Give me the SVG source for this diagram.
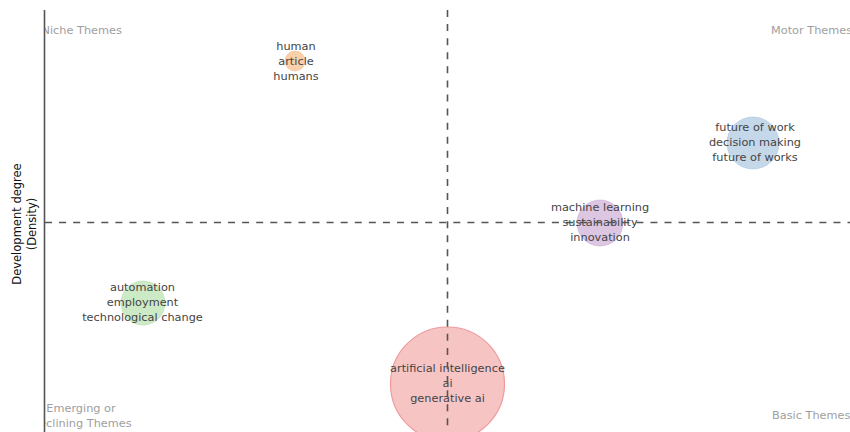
<svg xmlns="http://www.w3.org/2000/svg" width="850" height="432" viewBox="0 0 850 432">
<defs>
<style>
.lbl{font-family:"DejaVu Sans","Liberation Sans",sans-serif;font-size:11.3px;fill:#444;text-anchor:middle}
.quad{font-family:"DejaVu Sans","Liberation Sans",sans-serif;font-size:11.3px;fill:#9e9e9e}
.axt{font-family:"DejaVu Sans","Liberation Sans",sans-serif;font-size:11.5px;fill:#111;text-anchor:middle}
.dash{stroke:#555;stroke-width:1.6;stroke-dasharray:7 7.08;fill:none}
</style>
<clipPath id="plot"><rect x="44.5" y="0" width="806" height="432"/></clipPath>
</defs>
<rect width="850" height="432" fill="#fff"/>
<g id="axis-label">
<text class="axt" transform="translate(21,224) rotate(-90)">Development degree</text>
<text class="axt" transform="translate(36,224) rotate(-90)">(Density)</text>
</g>
<g id="quadrant-labels" clip-path="url(#plot)">
<text class="quad" x="41.5" y="33.5">Niche Themes</text>
<text class="quad" x="771" y="33.5">Motor Themes</text>
<text class="quad" x="81" y="412" text-anchor="middle">Emerging or</text>
<text class="quad" x="81" y="427" text-anchor="middle">Declining Themes</text>
<text class="quad" x="772" y="418.5">Basic Themes</text>
</g>
<g id="cluster-human">
<circle cx="295" cy="61" r="10" fill="#f9c89b" fill-opacity="0.85" stroke="#f5b37a" stroke-opacity="0.5"/>
<text class="lbl" x="296" y="50">human</text>
<text class="lbl" x="296" y="65">article</text>
<text class="lbl" x="296" y="80">humans</text>
</g>
<g id="cluster-future-of-work">
<circle cx="753" cy="143" r="26" fill="#c5d8ea" stroke="#a9c4df" stroke-opacity="0.6"/>
<text class="lbl" x="755" y="131">future of work</text>
<text class="lbl" x="755" y="146">decision making</text>
<text class="lbl" x="755" y="161">future of works</text>
</g>
<g id="cluster-machine-learning">
<circle cx="600" cy="223" r="23" fill="#dcc6e2" stroke="#c9a9d4" stroke-opacity="0.6"/>
<text class="lbl" x="600" y="211">machine learning</text>
<text class="lbl" x="600" y="226">sustainability</text>
<text class="lbl" x="600" y="241">innovation</text>
</g>
<g id="cluster-automation">
<circle cx="143" cy="303" r="22" fill="#cdeac6" stroke="#b4dfab" stroke-opacity="0.6"/>
<text class="lbl" x="142.5" y="291">automation</text>
<text class="lbl" x="142.5" y="306">employment</text>
<text class="lbl" x="142.5" y="321">technological change</text>
</g>
<g id="cluster-ai">
<circle cx="447.5" cy="384" r="57" fill="#f7c4c4" stroke="#f09a9a" stroke-width="1.2"/>
<text class="lbl" x="447.5" y="372">artificial intelligence</text>
<text class="lbl" x="447.5" y="387">ai</text>
<text class="lbl" x="447.5" y="402">generative ai</text>
</g>
<g id="connectors">
<line x1="44.5" y1="10" x2="44.5" y2="432" stroke="#555" stroke-width="1.6"/>
<line class="dash" x1="45" y1="222.5" x2="850" y2="222.5"/>
<line class="dash" x1="447.5" y1="10" x2="447.5" y2="432"/>
</g>
</svg>
